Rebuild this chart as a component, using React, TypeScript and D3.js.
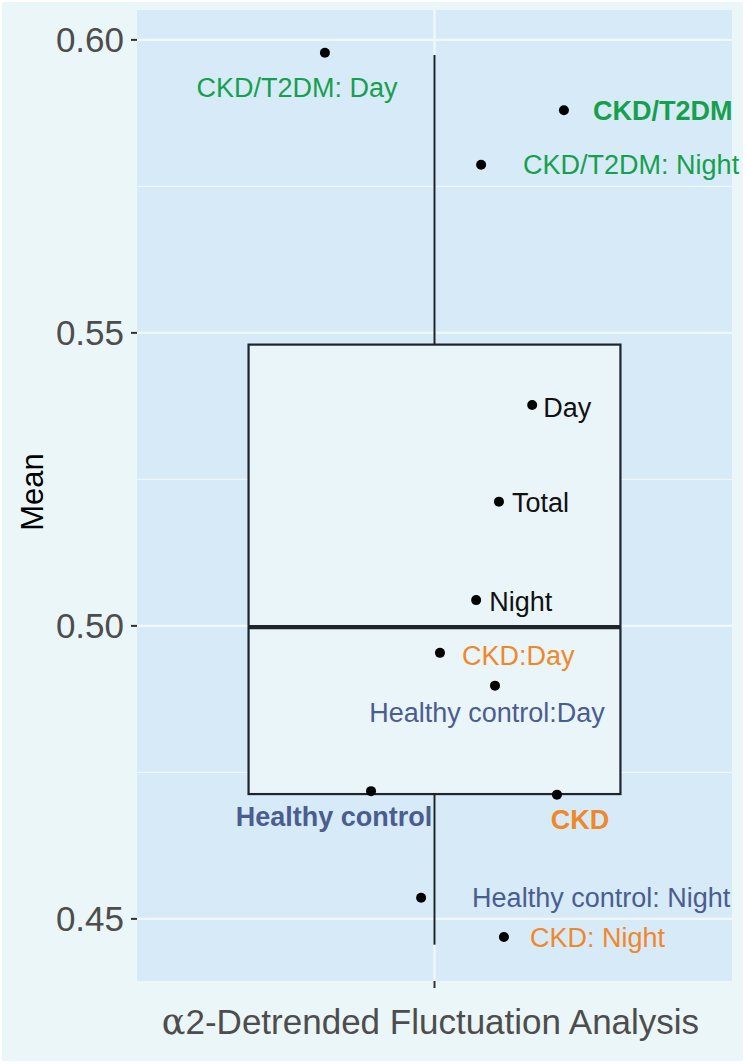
import React from "react";
import * as d3 from "d3";

const W = 747;
const H = 1064;

// Box statistics (y values)
const boxStats = { lower: 0.4456, q1: 0.4713, median: 0.4998, q3: 0.548, upper: 0.5974 };

// Points: names, jittered x positions, y values, groups
const pointNames = [
  "CKD/T2DM: Day",
  "CKD/T2DM",
  "CKD/T2DM: Night",
  "Day",
  "Total",
  "Night",
  "CKD:Day",
  "Healthy control:Day",
  "Healthy control",
  "CKD",
  "Healthy control: Night",
  "CKD: Night",
];
const pointX = [0.779, 1.261, 1.094, 1.197, 1.13, 1.084, 1.011, 1.122, 0.872, 1.247, 0.973, 1.14];
const pointY = [0.5978, 0.588, 0.5787, 0.5377, 0.5212, 0.5044, 0.4954, 0.4898, 0.4718, 0.4712, 0.4536, 0.4469];
const pointGroup = ["t2dm", "t2dm", "t2dm", "all", "all", "all", "ckd", "hc", "hc", "ckd", "hc", "ckd"];
const pointBold = [false, true, false, false, false, false, false, false, true, true, false, false];

const yTicks = [0.45, 0.5, 0.55, 0.6];
const yMinor = [0.475, 0.525, 0.575];
const yTickLabels = ["0.45", "0.50", "0.55", "0.60"];

const groupColor: Record<string, string> = {
  t2dm: "#16a04e",
  all: "#111111",
  ckd: "#f0882a",
  hc: "#4a5d8e",
};

// label offsets (px) relative to point: [dx, dy, anchor]
const labelOffsets: [number, number, string][] = [
  [-28, 35, "middle"],
  [29, 0, "start"],
  [42, 0, "start"],
  [11, 2, "start"],
  [13, 1, "start"],
  [13, 1, "start"],
  [22, 2, "start"],
  [-8, 27, "middle"],
  [-37, 25, "middle"],
  [23, 25, "middle"],
  [51, -1, "start"],
  [26, 0, "start"],
];

export default function App() {
  const panel = { left: 137, right: 732, top: 10, bottom: 981 };
  const x = d3.scaleLinear().domain([0.4, 1.6]).range([panel.left, panel.right]);
  const y = d3.scaleLinear().domain([0.4394, 0.6051]).range([panel.bottom, panel.top]);
  const font = "'Liberation Sans', Arial, sans-serif";
  const boxHalf = 0.375;

  return (
    <svg
      width={W}
      height={H}
      style={{ position: "absolute", left: 0, top: 0, display: "block" }}
    >
      <rect x={0} y={0} width={W} height={H} fill="#ffffff" />
      <rect x={2} y={2} width={741} height={1059} fill="#ebf6f8" />
      <rect
        x={panel.left}
        y={panel.top}
        width={panel.right - panel.left}
        height={panel.bottom - panel.top}
        fill="#d7eaf7"
      />
      {yMinor.map((v) => (
        <line key={"mn" + v} x1={panel.left} x2={panel.right} y1={y(v)} y2={y(v)} stroke="#eef7fb" strokeWidth={1.1} />
      ))}
      {yTicks.map((v) => (
        <line key={"mj" + v} x1={panel.left} x2={panel.right} y1={y(v)} y2={y(v)} stroke="#f1f8fc" strokeWidth={2.2} />
      ))}
      <line x1={x(1)} x2={x(1)} y1={panel.top} y2={panel.bottom} stroke="#f1f8fc" strokeWidth={2.2} />

      {/* whiskers */}
      <line x1={x(1)} x2={x(1)} y1={y(boxStats.q3)} y2={y(boxStats.upper)} stroke="#1c242c" strokeWidth={2} />
      <line x1={x(1)} x2={x(1)} y1={y(boxStats.q1)} y2={y(boxStats.lower)} stroke="#1c242c" strokeWidth={2} />
      {/* box */}
      <rect
        x={x(1 - boxHalf)}
        y={y(boxStats.q3)}
        width={x(1 + boxHalf) - x(1 - boxHalf)}
        height={y(boxStats.q1) - y(boxStats.q3)}
        fill="#eaf5f9"
        stroke="#1c242c"
        strokeWidth={2.2}
      />
      <line
        x1={x(1 - boxHalf)}
        x2={x(1 + boxHalf)}
        y1={y(boxStats.median)}
        y2={y(boxStats.median)}
        stroke="#1c242c"
        strokeWidth={4.2}
      />

      {/* points and labels */}
      {pointNames.map((n, i) => {
        const px = x(pointX[i]);
        const py = y(pointY[i]);
        const [dx, dy, anchor] = labelOffsets[i];
        return (
          <g key={n}>
            <circle cx={px} cy={py} r={5} fill="#000" />
            <text
              x={px + dx}
              y={py + dy}
              dy="0.36em"
              textAnchor={anchor}
              fontFamily={font}
              fontSize={27}
              fontWeight={pointBold[i] ? "bold" : "normal"}
              fill={groupColor[pointGroup[i]]}
            >
              {n}
            </text>
          </g>
        );
      })}

      {/* y axis */}
      {yTicks.map((v, i) => (
        <g key={"t" + v}>
          <line x1={panel.left - 6} x2={panel.left} y1={y(v)} y2={y(v)} stroke="#333" strokeWidth={2} />
          <text
            x={panel.left - 13}
            y={y(v)}
            dy="0.36em"
            textAnchor="end"
            fontFamily={font}
            fontSize={35}
            fill="#4d4d4d"
          >
            {yTickLabels[i]}
          </text>
        </g>
      ))}
      {/* x tick */}
      <line x1={x(1)} x2={x(1)} y1={panel.bottom} y2={panel.bottom + 7} stroke="#333" strokeWidth={2} />

      <text
        x={x(1) - 4}
        y={1034}
        textAnchor="middle"
        fontFamily={font}
        fontSize={35}
        fill="#4d4d4d"
      >
        <tspan fontFamily="'DejaVu Serif', 'Liberation Serif', serif">α</tspan>2-Detrended Fluctuation Analysis
      </text>
      <text
        transform={`translate(43, ${492}) rotate(-90)`}
        textAnchor="middle"
        fontFamily={font}
        fontSize={31}
        fill="#000"
      >
        Mean
      </text>
    </svg>
  );
}
